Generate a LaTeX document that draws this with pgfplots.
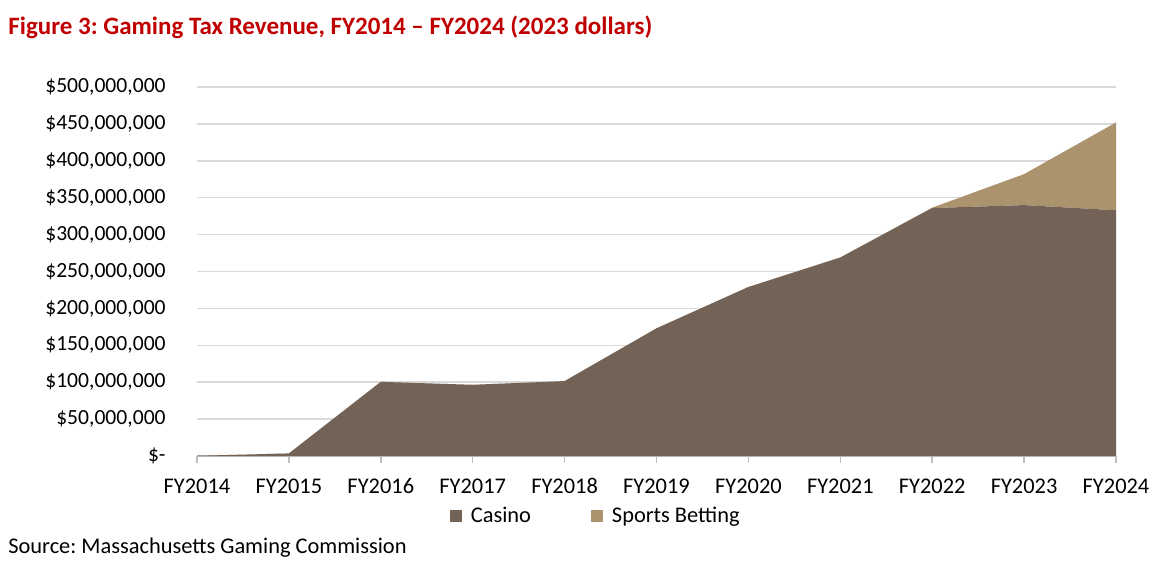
\documentclass[border=0pt]{standalone}
\usepackage{fontspec}
\setmainfont{Carlito}
\usepackage{pgfplots}
\pgfplotsset{compat=1.18}
\definecolor{casino}{HTML}{736256}
\definecolor{sports}{HTML}{AB936E}
\definecolor{titlered}{HTML}{C00000}
\definecolor{gridgray}{HTML}{D9D9D9}
\definecolor{axisgray}{HTML}{BFBFBF}
\frenchspacing

\begin{document}
\begin{tikzpicture}
  \useasboundingbox (0,0) rectangle (585pt,287pt);
  \node[anchor=west, inner sep=0pt, text=titlered, font=\bfseries\fontsize{12.5}{14}\selectfont]
    at (4pt,273.5pt) {Figure 3: Gaming Tax Revenue, FY2014 -- FY2024 (2023 dollars)};
  \node[anchor=west, inner sep=0pt, font=\fontsize{11.2}{13}\selectfont]
    at (4pt,13pt) {Source: Massachusetts Gaming Commission};
  \begin{axis}[
      at={(98.5pt,59pt)}, anchor=south west,
      scale only axis,
      width=459.5pt, height=184.5pt,
      xmin=0, xmax=10, ymin=0, ymax=500,
      enlargelimits=false,
      stack plots=y,
      xtick={0,...,10},
      xticklabels={FY2014,FY2015,FY2016,FY2017,FY2018,FY2019,FY2020,FY2021,FY2022,FY2023,FY2024},
      ytick={0,50,...,500},
      yticklabels={\$-,\$50{,}000{,}000,\$100{,}000{,}000,\$150{,}000{,}000,\$200{,}000{,}000,\$250{,}000{,}000,\$300{,}000{,}000,\$350{,}000{,}000,\$400{,}000{,}000,\$450{,}000{,}000,\$500{,}000{,}000},
      x tick label style={font=\fontsize{11.2}{13}\selectfont, anchor=base, inner sep=0pt, yshift=-15pt},
      y tick label style={font=\fontsize{10.8}{13}\selectfont, anchor=east, inner sep=0pt, xshift=-12pt},
      axis x line*=bottom, axis y line*=left,
      separate axis lines,
      x axis line style={axisgray, line width=0.75pt},
      y axis line style={draw=none},
      tick align=outside,
      major tick length=3.5pt,
      xtick style={axisgray, line width=0.75pt},
      ytick style={draw=none},
      ymajorgrids,
      grid style={gridgray, line width=0.75pt},
      legend columns=2,
      legend style={at={(0.435,-0.163)}, anchor=center, draw=none, fill=none,
        font=\fontsize{11.2}{13}\selectfont,
        /tikz/every odd column/.append style={column sep=2.5pt},
        /tikz/every even column/.append style={column sep=28pt}},
      legend cell align=left,
      legend image code/.code={\fill[#1] (0pt,-3pt) rectangle (6pt,3pt);},
    ]
    \addplot[fill=casino, draw=none] coordinates {
      (0,0.3) (1,3.5) (2,100.5) (3,96.5) (4,101.5) (5,173) (6,229)
      (7,269) (8,336) (9,340) (10,333)
    } \closedcycle;
    \addlegendentry{Casino}
    \addplot[fill=sports, draw=none] coordinates {
      (0,0) (1,0) (2,0) (3,0) (4,0) (5,0) (6,0)
      (7,0) (8,0.5) (9,42) (10,119)
    } \closedcycle;
    \addlegendentry{Sports Betting}
  \end{axis}
\end{tikzpicture}
\end{document}
